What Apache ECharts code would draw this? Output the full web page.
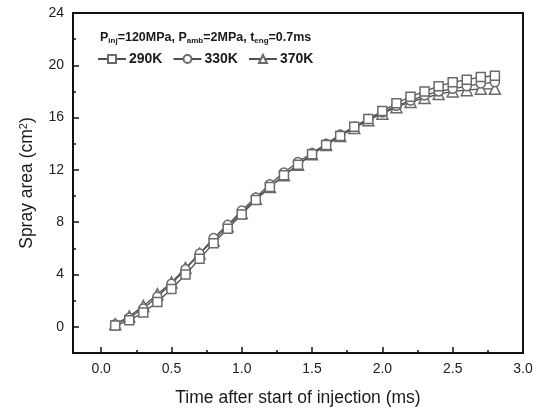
<!DOCTYPE html>
<html><head><meta charset="utf-8">
<script src="https://cdn.jsdelivr.net/npm/echarts@6/dist/echarts.min.js"></script>
<style>html,body{margin:0;padding:0;background:#fff}#c{width:546px;height:412px}</style>
</head><body><div id="c"></div>
<script>
const times = [0.1,0.2,0.3,0.4,0.5,0.6,0.7,0.8,0.9,1.0,1.1,1.2,1.3,1.4,1.5,1.6,1.7,1.8,1.9,2.0,2.1,2.2,2.3,2.4,2.5,2.6,2.7,2.8];
const s290 = [0.1,0.5,1.1,1.9,2.9,4.0,5.2,6.4,7.5,8.6,9.7,10.7,11.6,12.4,13.2,13.9,14.6,15.3,15.9,16.5,17.1,17.6,18.0,18.4,18.7,18.9,19.1,19.2];
const s330 = [0.2,0.7,1.4,2.3,3.3,4.4,5.6,6.8,7.8,8.9,9.9,10.9,11.8,12.6,13.3,14.0,14.7,15.3,15.9,16.4,16.9,17.3,17.7,18.0,18.2,18.4,18.6,18.7];
const s370 = [0.2,0.8,1.6,2.5,3.4,4.5,5.6,6.6,7.7,8.7,9.8,10.7,11.6,12.4,13.2,13.9,14.6,15.2,15.8,16.3,16.8,17.2,17.5,17.8,18.0,18.1,18.2,18.2];
const seriesNames = ['290K','330K','370K'];
const symbols = ['rect','circle','triangle'];
const xMajor = [0,0.5,1.0,1.5,2.0,2.5,3.0];
const xMinor = [0.25,0.75,1.25,1.75,2.25,2.75];
const yMajor = [0,4,8,12,16,20,24];
const yMinor = [2,6,10,14,18,22];

const font = 'Liberation Sans, Arial, sans-serif';
const pairs = a => times.map((t,i)=>[t,a[i]]);
const allData = [s290,s330,s370];
const tickStyle = {color:'#111',width:1.5};

const chart = echarts.init(document.getElementById('c'));
chart.setOption({
  animation:false,
  grid:{left:73,right:23,top:13,bottom:58,show:true,borderColor:'#111',borderWidth:2,backgroundColor:'transparent'},
  title:{
    left:95, top:26,
    text:'P{s|inj}=120MPa, P{s|amb}=2MPa, t{s|eng}=0.7ms',
    textStyle:{fontFamily:font,fontSize:12.5,fontWeight:'bold',color:'#1a1a1a',
      rich:{s:{fontFamily:font,fontSize:8,fontWeight:'bold',color:'#1a1a1a',verticalAlign:'bottom',padding:[6,0,0,0]}}}
  },
  legend:{
    left:92, top:47, itemWidth:28, itemHeight:10, itemGap:10,
    data:seriesNames,
    textStyle:{fontFamily:font,fontSize:14,fontWeight:'bold',color:'#1a1a1a',padding:[0,0,0,-2]}
  },
  xAxis:[{
    type:'value', min:-0.2, max:3.0,
    name:'Time after start of injection (ms)', nameLocation:'middle', nameGap:36,
    nameTextStyle:{fontFamily:font,fontSize:17.5,color:'#1a1a1a'},
    axisLine:{show:true,onZero:false,lineStyle:{color:'#111',width:2}},
    axisTick:{show:true,inside:true,length:6,customValues:xMajor,lineStyle:tickStyle},
    axisLabel:{customValues:xMajor,formatter:v=>v.toFixed(1),fontFamily:font,fontSize:14,color:'#222',margin:9},
    splitLine:{show:false}
  },{
    type:'value', min:-0.2, max:3.0, position:'bottom',
    axisLine:{show:false,onZero:false},
    axisTick:{show:true,inside:true,length:3,customValues:xMinor,lineStyle:tickStyle},
    axisLabel:{show:false,customValues:xMinor},
    splitLine:{show:false}
  }],
  yAxis:[{
    type:'value', min:-2, max:24,
    name:'Spray area (cm{sup|2})', nameLocation:'middle', nameGap:36, nameRotate:90,
    nameTextStyle:{fontFamily:font,fontSize:17.5,color:'#1a1a1a',
      rich:{sup:{fontFamily:font,fontSize:11,color:'#1a1a1a',verticalAlign:'top',padding:[0,0,8,0]}}},
    axisLine:{show:true,onZero:false,lineStyle:{color:'#111',width:2}},
    axisTick:{show:true,inside:true,length:6,customValues:yMajor,lineStyle:tickStyle},
    axisLabel:{customValues:yMajor,fontFamily:font,fontSize:14,color:'#222',margin:9},
    splitLine:{show:false}
  },{
    type:'value', min:-2, max:24, position:'left',
    axisLine:{show:false,onZero:false},
    axisTick:{show:true,inside:true,length:3,customValues:yMinor,lineStyle:tickStyle},
    axisLabel:{show:false,customValues:yMinor},
    splitLine:{show:false}
  }],
  series: seriesNames.map((n,i)=>({
    name:n, type:'line', data:pairs(allData[i]),
    symbol:symbols[i], symbolSize: i===2?11:9,
    showAllSymbol:true,
    lineStyle:{color:'#505050',width:1.3},
    itemStyle:{color:'#ffffff',borderColor:'#6a6a6a',borderWidth:1.5},
    z: 3-i
  }))
});
</script>
</body></html>
